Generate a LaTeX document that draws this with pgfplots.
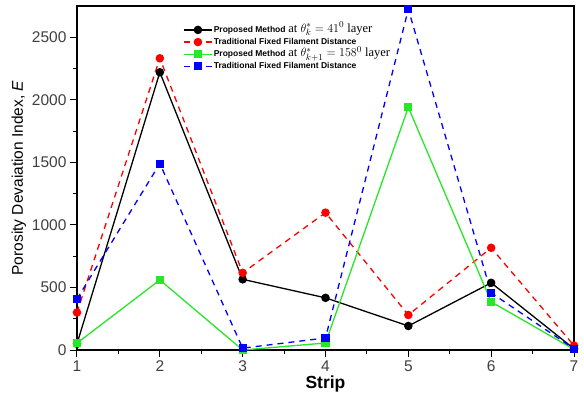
\documentclass[border=0pt]{standalone}
\usepackage{fontspec}
\setmainfont{Liberation Sans}
\newfontfamily\timesfont{Liberation Serif}
\usepackage{pgfplots}
\pgfplotsset{compat=1.18}
\definecolor{pgreen}{RGB}{40,230,40}
\newcommand{\lgb}[1]{{\fontsize{8.5}{9}\selectfont\bfseries #1}}
\newcommand{\lgt}[1]{\smash{\timesfont\fontsize{12.5}{13}\selectfont #1}}
\begin{document}
\begin{tikzpicture}
\begin{axis}[
  name=ax,
  scale only axis,
  width=497pt, height=344pt,
  xmin=1, xmax=7, ymin=0, ymax=2750,
  xtick={1,...,7}, ytick={0,500,...,2500},
  minor x tick num=1, minor y tick num=1,
  xtick pos=bottom, ytick pos=left,
  tick align=outside,
  major tick length=7pt, minor tick length=4pt,
  axis line style={line width=1.3pt},
  every tick/.style={black, line width=1pt},
  /pgf/number format/assume math mode=true,
  /pgf/number format/1000 sep={},
  tick label style={font=\fontsize{15.5}{17}\selectfont, text=black!75},
  xlabel={\textbf{Strip}},
  ylabel={Porosity Devaiation Index, \textit{E}},
  xlabel style={font=\fontsize{17.5}{19}\selectfont, yshift=3pt},
  ylabel style={font=\fontsize{15.5}{17}\selectfont, yshift=-1pt},
  legend style={draw=none, fill=none, at={(0.211,0.948)}, anchor=north west,
    row sep=2.5pt, inner sep=1pt, nodes={inner sep=1pt}},
  legend cell align=left,
  legend image code/.code={\draw[mark repeat=2,mark phase=2] plot coordinates {(0cm,0cm)(0.5cm,0cm)(1cm,0cm)};},
  every axis plot/.append style={line width=1.3pt},
]
\addplot[black, solid, mark=*, mark size=3.6pt] coordinates {(1,50) (2,2220) (3,565) (4,417) (5,192) (6,537) (7,10)};
\addlegendentry{\lgb{Proposed Method} \lgt{at $\theta_k^*=41^0$ layer}}
\addplot[red, dashed, dash pattern=on 6pt off 5pt, mark=*, mark size=3.6pt, mark options={solid}] coordinates {(1,300) (2,2332) (3,617) (4,1098) (5,280) (6,817) (7,35)};
\addlegendentry{\lgb{Traditional Fixed Filament Distance}}
\addplot[pgreen, solid, mark=square*, mark size=3.4pt] coordinates {(1,55) (2,560) (3,0) (4,56) (5,1940) (6,385) (7,5)};
\addlegendentry{\lgb{Proposed Method} \lgt{at $\theta_{k+1}^*=158^0$ layer}}
\addplot[blue, dashed, dash pattern=on 6pt off 5pt, mark=square*, mark size=3.4pt, mark options={solid}] coordinates {(1,408) (2,1490) (3,15) (4,96) (5,2724) (6,457) (7,10)};
\addlegendentry{\lgb{Traditional Fixed Filament Distance}}
\end{axis}
\path (ax.south west) ++(-77pt,-51pt);
\path (ax.north east) ++(10pt,6pt);
\end{tikzpicture}
\end{document}
